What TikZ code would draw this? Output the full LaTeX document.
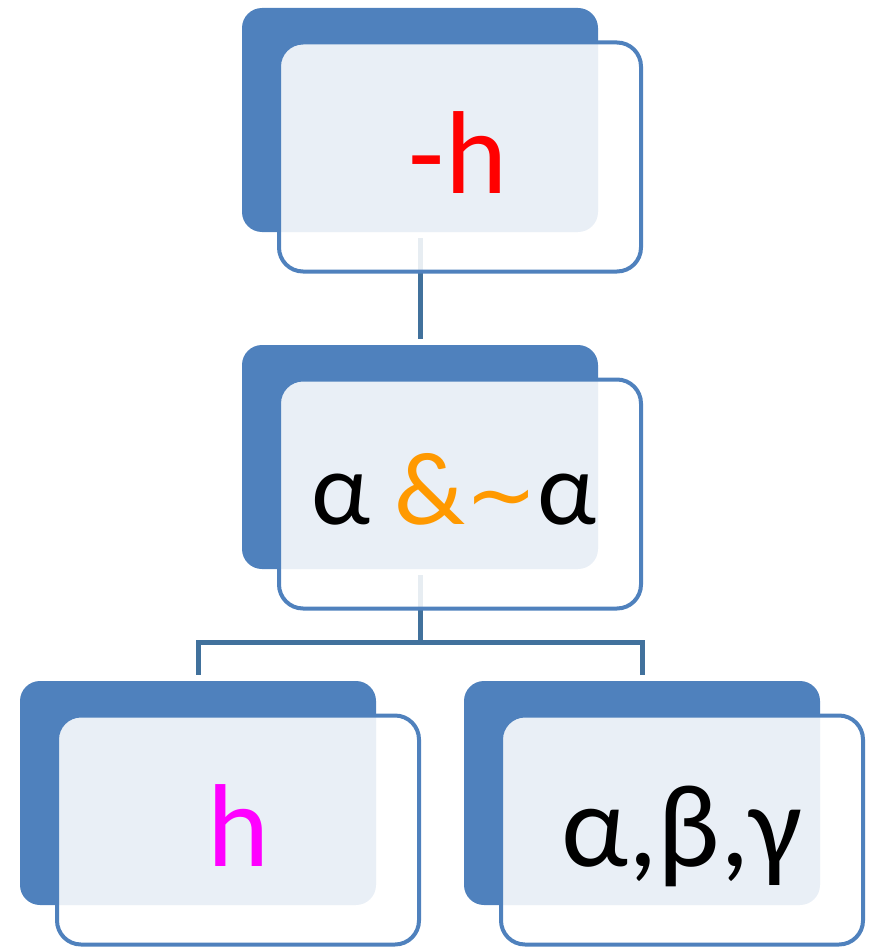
\documentclass[tikz,border=0pt]{standalone}
\usepackage{fontspec}
\setmainfont{Carlito}
\newfontfamily\symfont{DejaVu Sans}
\definecolor{boxblue}{HTML}{4F81BD}
\definecolor{connblue}{HTML}{41719C}
\definecolor{amp}{HTML}{FF9900}
\definecolor{pinkh}{HTML}{FF00FF}
\definecolor{redh}{HTML}{FF0000}
\tikzset{
  backbox/.style={fill=boxblue, draw=none, rounded corners=20pt, minimum width=356pt, minimum height=224pt, inner sep=0pt},
  frontbox/.style={fill=white, fill opacity=0.88, draw=boxblue, draw opacity=1, line width=4pt, rounded corners=24pt, minimum width=362pt, minimum height=229pt, inner sep=0pt},
  conn/.style={draw=connblue, line width=5pt},
  lbl/.style={anchor=base, inner sep=0pt, text opacity=1},
}
\begin{document}
\begin{tikzpicture}[x=1pt,y=-1pt]
\useasboundingbox (0,0) rectangle (872,947);
% back boxes
\node[backbox] (tb) at (420,120) {};
\node[backbox] (mb) at (420,457) {};
\node[backbox] (lb) at (198,793) {};
\node[backbox] (rb) at (642,793) {};
% connectors
\coordinate (j) at (420,642);
\draw[conn] ([yshift=-6pt]tb.south) -- ([yshift=6pt]mb.north);
\draw[conn] ([yshift=-6pt]mb.south) -- (j);
\draw[conn] (j) -| ([yshift=6pt]lb.north);
\draw[conn] (j) -| ([yshift=6pt]rb.north);
% front boxes
\node[frontbox] (tf) at (460,157) {};
\node[frontbox] (mf) at (460,494) {};
\node[frontbox] (lf) at (238,830) {};
\node[frontbox] (rf) at (682,830) {};
% texts
\node[lbl, text=redh] (tt) at (458,193) {\fontsize{118}{118}\selectfont -h};
\node[lbl] (mt) at (454,524) {\fontsize{104}{104}\selectfont α \textcolor{amp}{\&{\symfont\fontsize{86}{86}\selectfont ∼}}α};
\node[lbl, text=pinkh] (lt) at (238,866) {\fontsize{118}{118}\selectfont h};
\node[lbl] (rt) at (682,866) {\fontsize{118}{118}\selectfont α,β,γ};
\end{tikzpicture}
\end{document}
